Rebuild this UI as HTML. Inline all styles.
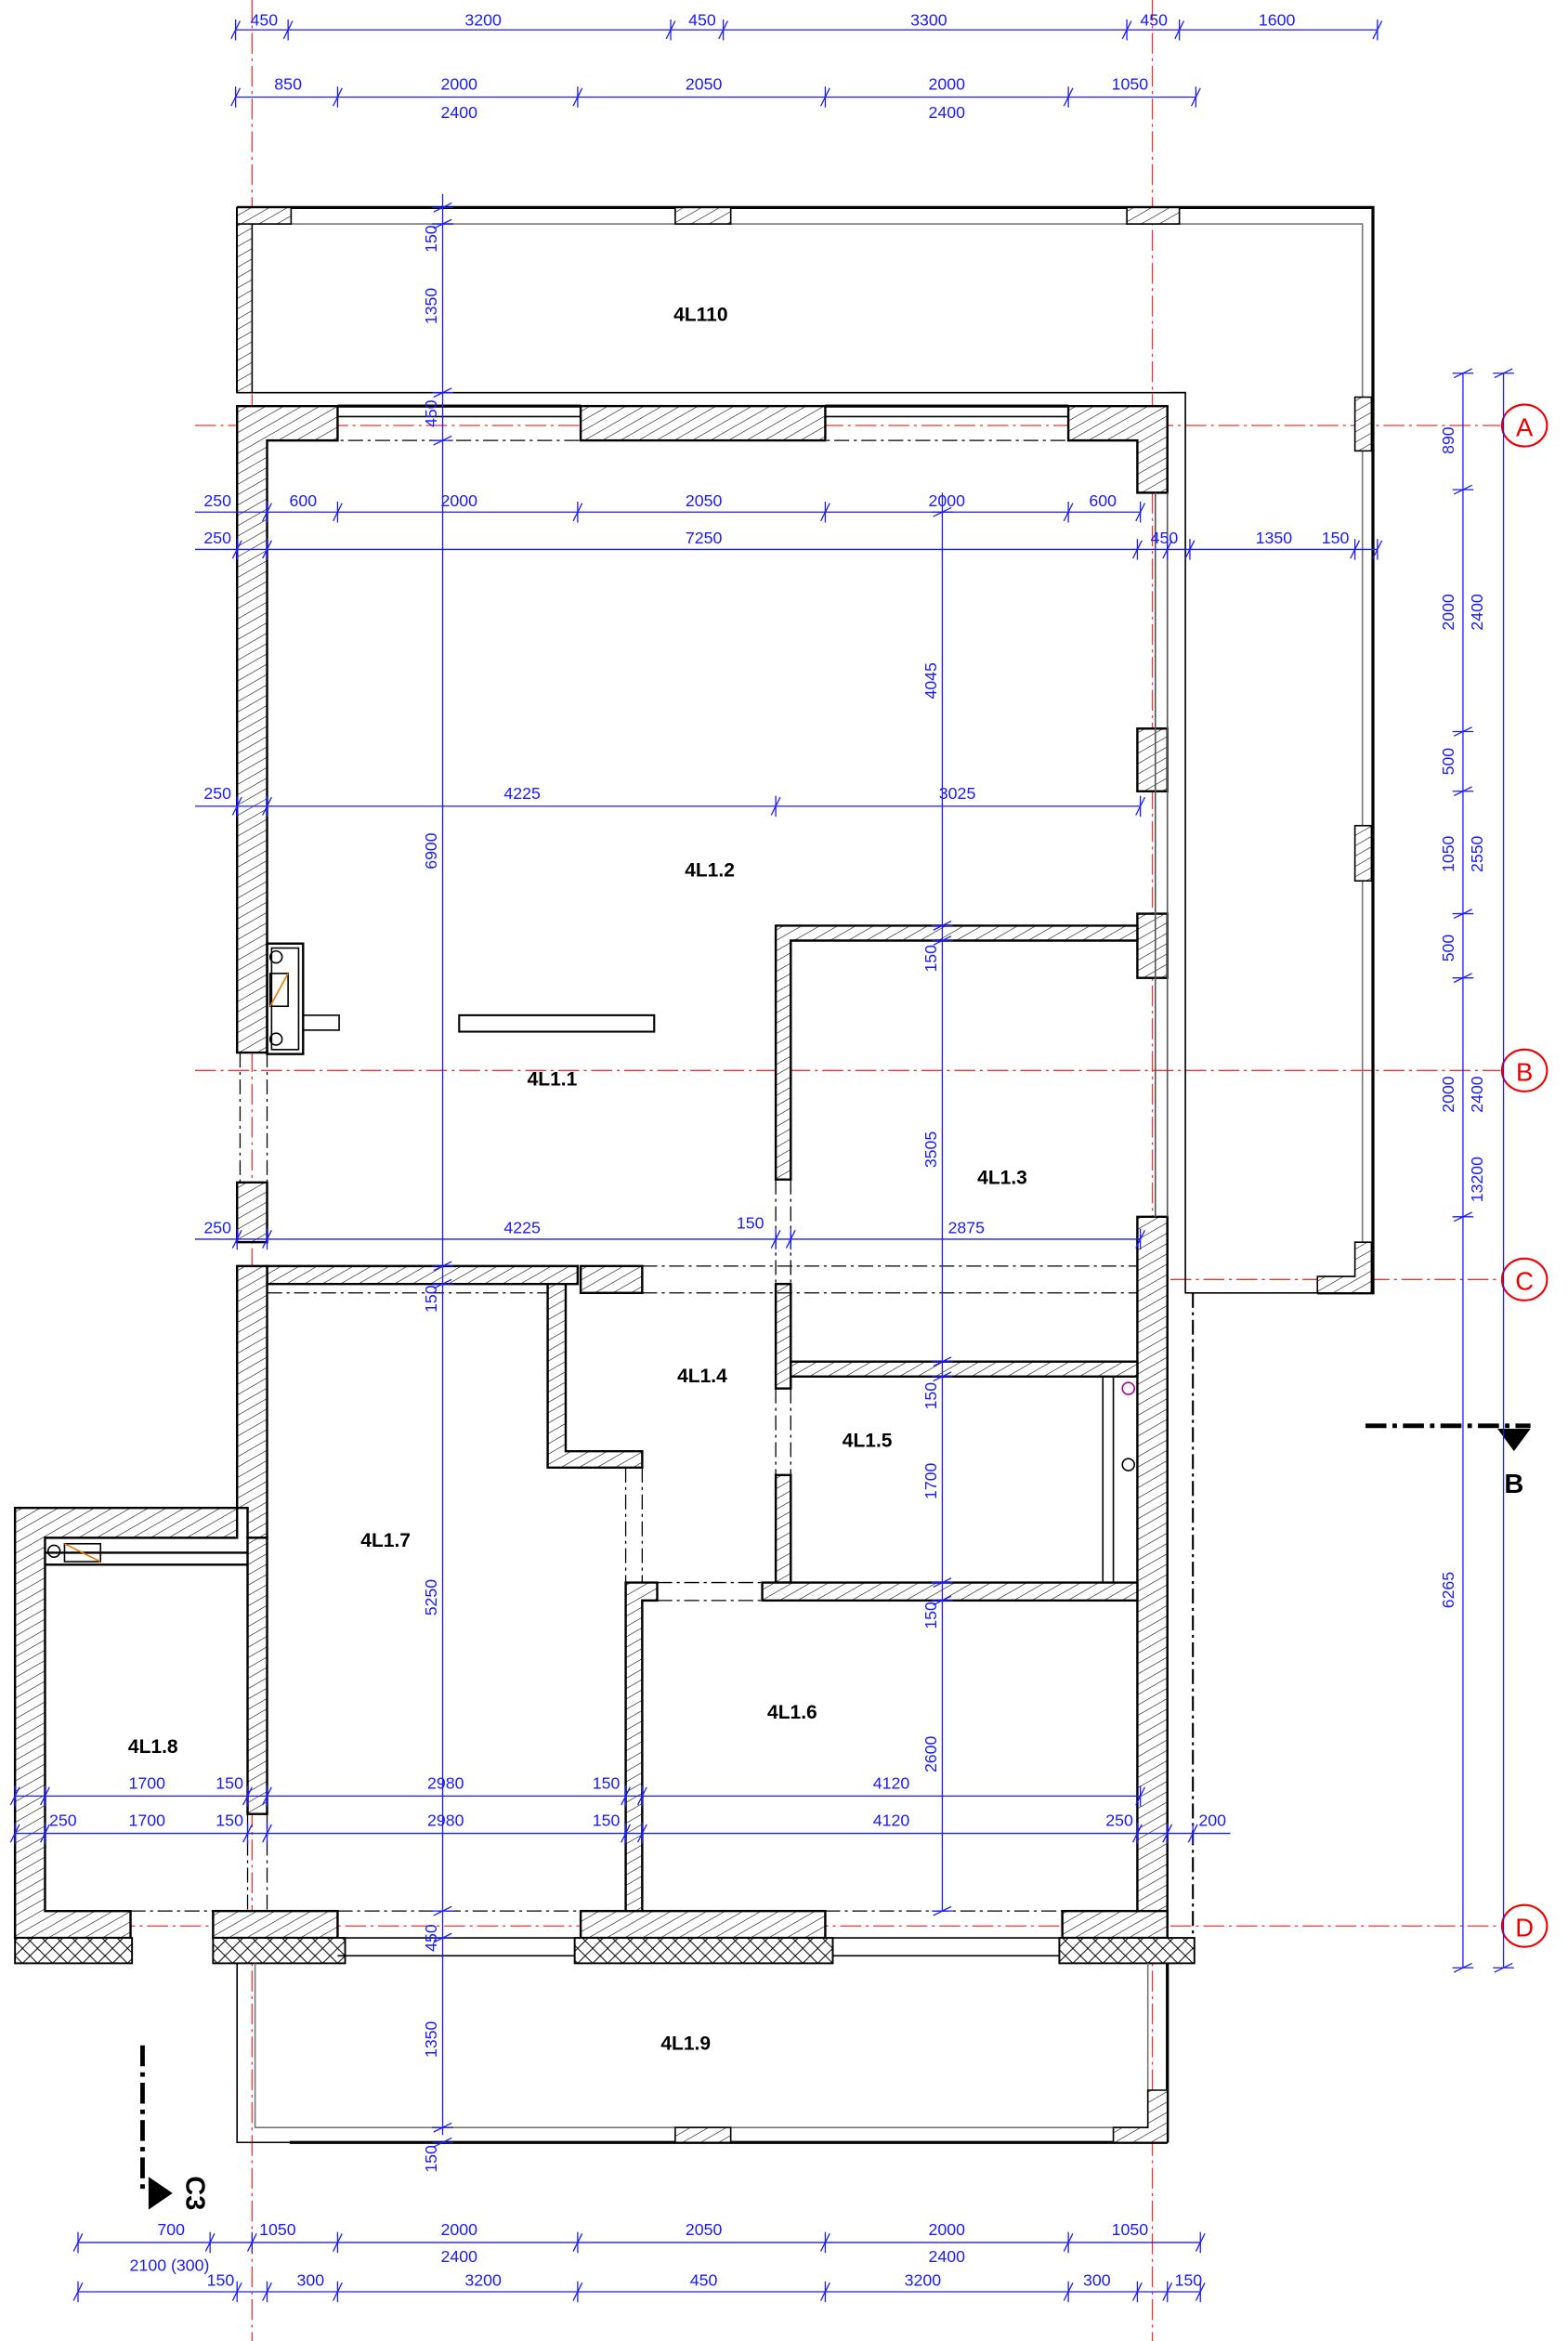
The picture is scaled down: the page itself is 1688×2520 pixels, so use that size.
<!DOCTYPE html>
<html><head><meta charset="utf-8">
<style>
html,body{margin:0;padding:0;background:#fff;}
svg{display:block;}
.d{font-family:"Liberation Sans",sans-serif;font-size:11px;fill:#1a1aff;text-anchor:middle;}
.r{font-family:"Liberation Sans",sans-serif;font-size:13px;font-weight:bold;fill:#000;text-anchor:middle;}
</style></head>
<body>
<svg id="s" width="1688" height="2520" viewBox="0 0 1045 1568" preserveAspectRatio="none" xmlns="http://www.w3.org/2000/svg">
<defs>
<pattern id="h" width="6" height="6" patternUnits="userSpaceOnUse" patternTransform="rotate(60)">
<rect width="6" height="6" fill="#fff"/><line x1="0" y1="0" x2="0" y2="6" stroke="#000" stroke-width="0.7"/></pattern>
<pattern id="hv" width="6" height="6" patternUnits="userSpaceOnUse" patternTransform="rotate(-50)">
<rect width="6" height="6" fill="#fff"/><line x1="0" y1="0" x2="0" y2="6" stroke="#000" stroke-width="0.6"/></pattern>
<pattern id="x" width="10" height="10" patternUnits="userSpaceOnUse">
<rect width="10" height="10" fill="#fff"/><path d="M0 0L10 10M10 0L0 10" stroke="#000" stroke-width="0.6"/></pattern>
</defs>

<!-- red grid lines -->
<g stroke="#e33" stroke-width="0.8" stroke-dasharray="14 3 2 3" fill="none">
<line x1="168" y1="0" x2="168" y2="1568"/>
<line x1="768" y1="0" x2="768" y2="1568"/>
<line x1="130" y1="285" x2="1000" y2="285"/>
<line x1="130" y1="717" x2="1000" y2="717"/>
<line x1="780" y1="857" x2="1000" y2="857"/>
<line x1="10" y1="1290" x2="1000" y2="1290"/>
</g>
<g fill="none" stroke="#e00" stroke-width="1.3">
<ellipse cx="1016" cy="285" rx="15" ry="14"/><ellipse cx="1016" cy="717" rx="15" ry="14"/>
<ellipse cx="1016" cy="857" rx="15" ry="14"/><ellipse cx="1016" cy="1290" rx="15" ry="14"/>
</g>
<g font-family="Liberation Sans,sans-serif" font-size="17" fill="#e00" text-anchor="middle">
<text x="1016" y="292">A</text><text x="1016" y="724">B</text><text x="1016" y="864">C</text><text x="1016" y="1297">D</text>
</g>

<!-- balcony 4L110 -->
<g fill="none" stroke="#000">
<path d="M158 139H915V866H878" stroke-width="2"/>
<path d="M168 150H908V855H880" stroke="#777" stroke-width="1"/>
<path d="M158 263H790V866H878" stroke-width="1"/>
<line x1="158" y1="139" x2="158" y2="263" stroke-width="1.5"/>
</g>
<g fill="url(#h)" stroke="#000" stroke-width="1">
<rect x="158" y="139" width="10" height="124"/><rect x="158" y="139" width="36" height="11"/>
<rect x="450" y="139" width="37" height="11"/><rect x="751" y="139" width="35" height="11"/>
<rect x="903" y="266" width="11" height="36"/><rect x="903" y="553" width="11" height="37"/>
<path d="M903 832H914V866H878V855H903Z"/>
</g>

<!-- exterior walls -->
<g fill="url(#h)" stroke="#000" stroke-width="1.5">
<path d="M158 272H225V295H178V705H158Z"/>
<rect x="387" y="272" width="163" height="23"/>
<path d="M712 272H778V330H758V295H712Z"/>
<rect x="758" y="488" width="20" height="42"/><rect x="758" y="612" width="20" height="43"/>
<rect x="158" y="792" width="20" height="40"/>
<path d="M178 848H385V860H178Z"/><rect x="387" y="848" width="41" height="18"/>
<path d="M158 848H178V1030H165V1010H158Z"/>
<path d="M758 815H778V1290H708V1280H758Z"/>
<path d="M517 620H758V630H527V790H517Z"/>
<rect x="517" y="860" width="10" height="70"/>
<rect x="527" y="912" width="231" height="10"/>
<rect x="517" y="988" width="10" height="72"/>
<rect x="508" y="1060" width="250" height="12"/>
<path d="M365 860H377V972H428V983H365Z"/>
<path d="M417 1060H438V1072H428V1280H417Z"/>
<rect x="165" y="1030" width="13" height="185"/>
<path d="M10 1010H158V1030H30V1280H87V1298H10Z"/>
<rect x="142" y="1280" width="83" height="18"/>
<rect x="387" y="1280" width="163" height="18"/>
<rect x="708" y="1280" width="70" height="18"/>
</g>
<g fill="url(#x)" stroke="#000" stroke-width="1.2">
<rect x="10" y="1298" width="78" height="17"/><rect x="142" y="1298" width="88" height="17"/>
<rect x="383" y="1298" width="172" height="17"/><rect x="706" y="1298" width="90" height="17"/>
</g>
<g fill="none" stroke="#000" stroke-width="1">
<line x1="225" y1="272" x2="387" y2="272" stroke-width="2"/><line x1="550" y1="272" x2="712" y2="272" stroke-width="2"/>
<line x1="225" y1="279" x2="387" y2="279"/><line x1="550" y1="279" x2="712" y2="279"/>
<path d="M770 330V815M778 330V815" stroke="#555"/>
<path d="M780 263H790" />
<line x1="225" y1="1298" x2="387" y2="1298"/><line x1="550" y1="1298" x2="708" y2="1298"/>
<line x1="225" y1="1310" x2="383" y2="1310"/><line x1="555" y1="1310" x2="706" y2="1310"/>
<line x1="735" y1="922" x2="735" y2="1060"/><line x1="742" y1="922" x2="742" y2="1060"/>
<path d="M30 1040H165M30 1048H165" stroke-width="1.5"/>
<rect x="43" y="1034" width="24" height="12" stroke="#000"/><line x1="43" y1="1034" x2="67" y2="1046" stroke="#e70"/>
<circle cx="36" cy="1039" r="4"/>
<rect x="178" y="632" width="24" height="74" stroke-width="1.5"/><rect x="181" y="635" width="18" height="68"/>
<rect x="180" y="652" width="12" height="22"/><line x1="180" y1="674" x2="192" y2="652" stroke="#e70"/>
<circle cx="184" cy="641" r="4"/><circle cx="184" cy="696" r="4"/>
<rect x="202" y="680" width="24" height="10"/>
<rect x="306" y="680" width="130" height="11" stroke-width="1.3"/>
<circle cx="752" cy="930" r="4" stroke="#a0a"/><circle cx="752" cy="981" r="4"/>
</g>
<g fill="none" stroke="#000" stroke-width="0.8" stroke-dasharray="10 3 2 3">
<line x1="178" y1="295" x2="758" y2="295"/>
<line x1="160" y1="705" x2="160" y2="792"/><line x1="178" y1="705" x2="178" y2="792"/>
<line x1="517" y1="790" x2="517" y2="860"/><line x1="527" y1="790" x2="527" y2="860"/>
<line x1="428" y1="848" x2="758" y2="848"/><line x1="428" y1="866" x2="758" y2="866"/>
<line x1="517" y1="930" x2="517" y2="988"/><line x1="527" y1="930" x2="527" y2="988"/>
<line x1="417" y1="983" x2="417" y2="1060"/><line x1="428" y1="983" x2="428" y2="1060"/>
<line x1="438" y1="1060" x2="508" y2="1060"/><line x1="438" y1="1072" x2="508" y2="1072"/>
<line x1="178" y1="866" x2="365" y2="866"/>
<line x1="165" y1="1215" x2="165" y2="1280"/><line x1="178" y1="1215" x2="178" y2="1280"/>
<line x1="87" y1="1280" x2="142" y2="1280"/><line x1="225" y1="1280" x2="387" y2="1280"/><line x1="550" y1="1280" x2="708" y2="1280"/>
<line x1="795" y1="866" x2="795" y2="1298" stroke-width="1.3"/>
</g>

<!-- balcony 4L1.9 -->
<g fill="none" stroke="#000">
<path d="M158 1315V1435H778" stroke-width="1"/>
<path d="M170 1315V1425H765V1315" stroke="#777"/>
<line x1="193" y1="1435" x2="778" y2="1435" stroke-width="2"/>
<line x1="778" y1="1315" x2="778" y2="1435" stroke-width="2"/>
</g>
<g fill="url(#h)" stroke="#000">
<rect x="450" y="1425" width="37" height="10"/><path d="M765 1400H778V1435H742V1425H765Z"/>
</g>

<!-- section marks -->
<g stroke="#000" stroke-width="3" stroke-dasharray="14 4 3 4" fill="none">
<line x1="910" y1="955" x2="1020" y2="955"/><line x1="95" y1="1370" x2="95" y2="1470"/>
</g>
<path d="M998 957H1020L1009 972Z" fill="#000"/>
<path d="M99 1458V1480L115 1469Z" fill="#000"/>
<text x="1009" y="1000" font-family="Liberation Sans,sans-serif" font-weight="bold" font-size="18" text-anchor="middle">B</text>
<text transform="translate(124 1469) rotate(90)" font-family="Liberation Sans,sans-serif" font-weight="bold" font-size="18" text-anchor="middle">C3</text>

<!-- dimension lines (generated) -->
<g id="dims" stroke="#1a1aff" stroke-width="0.8" fill="none"></g>

<!-- dimension texts -->
<g class="d">
<text x="176" y="17">450</text><text x="322" y="17">3200</text><text x="468" y="17">450</text><text x="619" y="17">3300</text><text x="769" y="17">450</text><text x="851" y="17">1600</text>
<text x="192" y="60">850</text><text x="306" y="60">2000</text><text x="469" y="60">2050</text><text x="631" y="60">2000</text><text x="753" y="60">1050</text>
<text x="306" y="79">2400</text><text x="631" y="79">2400</text>
<text x="145" y="339">250</text><text x="202" y="339">600</text><text x="306" y="339">2000</text><text x="469" y="339">2050</text><text x="631" y="339">2000</text><text x="735" y="339">600</text>
<text x="145" y="364">250</text><text x="469" y="364">7250</text><text x="776" y="364">450</text><text x="849" y="364">1350</text><text x="890" y="364">150</text>
<text x="145" y="535">250</text><text x="348" y="535">4225</text><text x="638" y="535">3025</text>
<text x="145" y="826">250</text><text x="348" y="826">4225</text><text x="500" y="823">150</text><text x="644" y="826">2875</text>
<text x="98" y="1198">1700</text><text x="153" y="1198">150</text><text x="297" y="1198">2980</text><text x="404" y="1198">150</text><text x="594" y="1198">4120</text>
<text x="42" y="1223">250</text><text x="98" y="1223">1700</text><text x="153" y="1223">150</text><text x="297" y="1223">2980</text><text x="404" y="1223">150</text><text x="594" y="1223">4120</text><text x="746" y="1223">250</text><text x="808" y="1223">200</text>
<text x="114" y="1497">700</text><text x="185" y="1497">1050</text><text x="306" y="1497">2000</text><text x="469" y="1497">2050</text><text x="631" y="1497">2000</text><text x="753" y="1497">1050</text>
<text x="113" y="1521">2100 (300)</text><text x="306" y="1515">2400</text><text x="631" y="1515">2400</text>
<text x="147" y="1531">150</text><text x="207" y="1531">300</text><text x="322" y="1531">3200</text><text x="469" y="1531">450</text><text x="615" y="1531">3200</text><text x="731" y="1531">300</text><text x="792" y="1531">150</text>
<g transform="translate(291 0)">
<text transform="translate(0 160) rotate(-90)">150</text><text transform="translate(0 205) rotate(-90)">1350</text><text transform="translate(0 277) rotate(-90)">450</text>
<text transform="translate(0 570) rotate(-90)">6900</text><text transform="translate(0 870) rotate(-90)">150</text><text transform="translate(0 1070) rotate(-90)">5250</text>
<text transform="translate(0 1298) rotate(-90)">450</text><text transform="translate(0 1366) rotate(-90)">1350</text><text transform="translate(0 1446) rotate(-90)">150</text>
</g>
<g transform="translate(624 0)">
<text transform="translate(0 456) rotate(-90)">4045</text><text transform="translate(0 642) rotate(-90)">150</text><text transform="translate(0 770) rotate(-90)">3505</text>
<text transform="translate(0 935) rotate(-90)">150</text><text transform="translate(0 992) rotate(-90)">1700</text><text transform="translate(0 1082) rotate(-90)">150</text><text transform="translate(0 1175) rotate(-90)">2600</text>
</g>
<g transform="translate(969 0)">
<text transform="translate(0 295) rotate(-90)">890</text><text transform="translate(0 410) rotate(-90)">2000</text><text transform="translate(0 510) rotate(-90)">500</text>
<text transform="translate(0 572) rotate(-90)">1050</text><text transform="translate(0 635) rotate(-90)">500</text><text transform="translate(0 733) rotate(-90)">2000</text><text transform="translate(0 1065) rotate(-90)">6265</text>
</g>
<g transform="translate(988 0)">
<text transform="translate(0 410) rotate(-90)">2400</text><text transform="translate(0 572) rotate(-90)">2550</text><text transform="translate(0 733) rotate(-90)">2400</text><text transform="translate(0 790) rotate(-90)">13200</text>
</g>
</g>

<!-- room labels -->
<g class="r">
<text x="467" y="215">4L110</text><text x="473" y="587">4L1.2</text><text x="368" y="727">4L1.1</text>
<text x="668" y="793">4L1.3</text><text x="468" y="926">4L1.4</text><text x="578" y="969">4L1.5</text>
<text x="257" y="1036">4L1.7</text><text x="528" y="1151">4L1.6</text><text x="102" y="1174">4L1.8</text><text x="457" y="1373">4L1.9</text>
</g>

<script>
(function(){
var g=document.getElementById('dims'),ns='http://www.w3.org/2000/svg';
function L(a,b,c,d){var l=document.createElementNS(ns,'line');l.setAttribute('x1',a);l.setAttribute('y1',b);l.setAttribute('x2',c);l.setAttribute('y2',d);g.appendChild(l);}
function H(y,x1,x2,t){L(x1,y,x2,y);t.forEach(function(x){L(x-3,y+6,x+3,y-6);L(x,y-7,x,y+7);});}
function V(x,y1,y2,t){L(x,y1,x,y2);t.forEach(function(y){L(x-6,y+3,x+6,y-3);L(x-7,y,x+7,y);});}
H(20,157,918,[157,192,447,482,751,786,918]);
H(65,157,797,[157,225,385,550,712,797]);
H(343,130,760,[178,225,385,550,712,760]);
H(368,130,918,[158,178,758,778,793,903,918]);
H(540,130,760,[158,178,517,760]);
H(830,130,760,[158,178,517,527,760]);
H(1203,10,760,[10,30,165,178,417,428,760]);
H(1228,10,820,[10,30,165,178,417,428,758,778,795]);
H(1502,52,800,[52,140,168,225,385,550,712,800]);
H(1535,52,800,[52,158,178,225,385,550,712,758,778,800]);
V(295,130,1430,[139,150,263,295,848,860,1280,1298,1425,1435]);
V(628,330,1280,[343,620,630,912,922,1060,1072,1280]);
V(975,250,1318,[250,328,490,530,612,655,815,1318]);
V(1002,250,1318,[250,1318]);
})();
</script>
</svg>
</body></html>
